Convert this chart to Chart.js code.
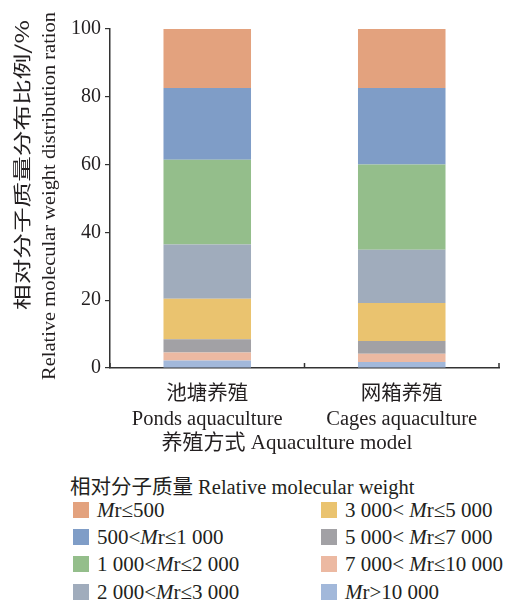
<!DOCTYPE html>
<html lang="zh">
<head>
  <meta charset="UTF-8" />
  <title>相对分子质量分布</title>
  <script src="https://cdn.jsdelivr.net/npm/chart.js"></script>
  <style>
    body { margin: 0; background: #fff; width: 516px; height: 603px; overflow: hidden; position: relative;
      font-family: "Liberation Serif", "Noto Sans CJK SC", serif; color: #231f20; }
    #wrap { position: absolute; left: 0; top: 0; width: 516px; height: 455px; }
    #legendTitle { position: absolute; left: 70px; top: 470px; font-size: 20.5px; white-space: nowrap; }
    .item { position: absolute; font-size: 21px; white-space: nowrap; line-height: 20px; }
    .item span.sw { position: absolute; left: 0; top: 2px; width: 16px; height: 16px; }
    .item span.tx { position: absolute; left: 24px; top: 0; }
  </style>
</head>
<body>
  <div id="wrap"><canvas id="myChart" width="516" height="455"></canvas></div>
  <div id="legendTitle">相对分子质量 Relative molecular weight</div>
  <div id="legend"></div>

  <script>
    // categories (two lines each) and tick values
    const categories = [['池塘养殖', 'Ponds aquaculture'], ['网箱养殖', 'Cages aquaculture']];
    const yTicks = [0, 20, 40, 60, 80, 100];

    // legend labels, top to bottom of the stack
    const rangeLabels = ['Mr≤500', '500<Mr≤1 000', '1 000<Mr≤2 000', '2 000<Mr≤3 000',
      '3 000< Mr≤5 000', '5 000< Mr≤7 000', '7 000< Mr≤10 000', 'Mr>10 000'];
    const rangeColors = ['#e3a27e', '#7f9dc7', '#94be8b', '#a0acbc',
      '#eac36f', '#a2a1a5', '#ecb9a2', '#a2b8da'];

    // percent values [ponds, cages]
    const mr500 = [17.4, 17.4];
    const mr1000 = [21.2, 22.6];
    const mr2000 = [25.0, 25.1];
    const mr3000 = [16.0, 15.7];
    const mr5000 = [11.9, 11.2];
    const mr7000 = [3.9, 3.8];
    const mr10000 = [2.4, 2.4];
    const mrOver = [2.2, 1.8];
    const seriesValues = [mr500, mr1000, mr2000, mr3000, mr5000, mr7000, mr10000, mrOver];

    const latin = '"Liberation Serif", "Noto Sans CJK SC", serif';
    const ink = '#231f20';

    // stack from the bottom: Mr>10 000 first
    const datasets = [];
    for (let i = seriesValues.length - 1; i >= 0; i--) {
      datasets.push({
        label: rangeLabels[i],
        data: seriesValues[i],
        backgroundColor: rangeColors[i],
        borderWidth: 0,
        barPercentage: 0.45,
        categoryPercentage: 1
      });
    }

    // axis titles and the short inward ticks on the x axis
    const extras = {
      id: 'extras',
      afterDraw(chart) {
        const ctx = chart.ctx;
        const x = chart.scales.x;
        const area = chart.chartArea;
        ctx.save();
        ctx.strokeStyle = '#333';
        ctx.lineWidth = 1.5;
        const half = (x.getPixelForValue(1) - x.getPixelForValue(0)) / 2;
        const marks = [x.getPixelForValue(0) - half, x.getPixelForValue(0) + half, x.getPixelForValue(1) + half];
        marks.forEach(function (px) {
          ctx.beginPath();
          ctx.moveTo(px, area.bottom);
          ctx.lineTo(px, area.bottom - 5);
          ctx.stroke();
        });

        ctx.fillStyle = ink;
        ctx.textAlign = 'center';
        ctx.textBaseline = 'middle';

        // y title, Chinese line
        ctx.save();
        ctx.translate(22, 165);
        ctx.rotate(-Math.PI / 2);
        ctx.font = '18px "Noto Sans CJK SC", "Liberation Serif"';
        const cn = '相对分子质量分布比例/%';
        const w = ctx.measureText(cn).width;
        ctx.scale(290 / w, 1);
        ctx.fillText(cn, 0, 0);
        ctx.restore();

        // y title, English line
        ctx.save();
        ctx.translate(50, 196);
        ctx.rotate(-Math.PI / 2);
        ctx.font = '18px ' + latin;
        const en = 'Relative molecular weight distribution ration';
        const we = ctx.measureText(en).width;
        ctx.scale(368 / we, 1);
        ctx.fillText(en, 0, 0);
        ctx.restore();

        // x title
        ctx.font = '21px ' + latin;
        ctx.fillText('养殖方式 Aquaculture model', 287, 443);
        ctx.restore();
      }
    };

    new Chart(document.getElementById('myChart'), {
      type: 'bar',
      data: { labels: categories, datasets: datasets },
      options: {
        responsive: false,
        animation: false,
        layout: { padding: { top: 29, right: 17, left: 0, bottom: 0 } },
        plugins: { legend: { display: false }, tooltip: { enabled: false }, title: { display: false } },
        scales: {
          x: {
            stacked: true,
            grid: { display: false, drawTicks: false },
            border: { display: true, color: '#333', width: 1.5 },
            ticks: { color: ink, padding: 14, font: { family: latin, size: 20.5, lineHeight: 1.22 }, maxRotation: 0 },
            afterFit(scale) { scale.height = 455 - 368; }
          },
          y: {
            stacked: true,
            min: 0,
            max: 100,
            afterBuildTicks(scale) { scale.ticks = yTicks.map(v => ({ value: v })); },
            grid: { display: true, drawOnChartArea: false, drawTicks: true, tickLength: 5, color: '#333', lineWidth: 1.2 },
            border: { display: true, color: '#333', width: 1.5 },
            ticks: { color: ink, padding: 4, font: { family: latin, size: 20 } },
            afterFit(scale) { scale.width = 110; }
          }
        }
      },
      plugins: [extras]
    });

    // legend in two columns of four
    const legend = document.getElementById('legend');
    const rowTops = [500, 527, 554, 582];
    rangeLabels.forEach(function (lab, i) {
      const col = Math.floor(i / 4);
      const row = i % 4;
      const div = document.createElement('div');
      div.className = 'item';
      div.style.left = (col === 0 ? 73 : 321) + 'px';
      div.style.top = rowTops[row] + 'px';
      const sw = document.createElement('span');
      sw.className = 'sw';
      sw.style.background = rangeColors[i];
      const tx = document.createElement('span');
      tx.className = 'tx';
      tx.innerHTML = lab.replace('Mr', '<i>M</i>r');
      div.appendChild(sw);
      div.appendChild(tx);
      legend.appendChild(div);
    });
  </script>
</body>
</html>
